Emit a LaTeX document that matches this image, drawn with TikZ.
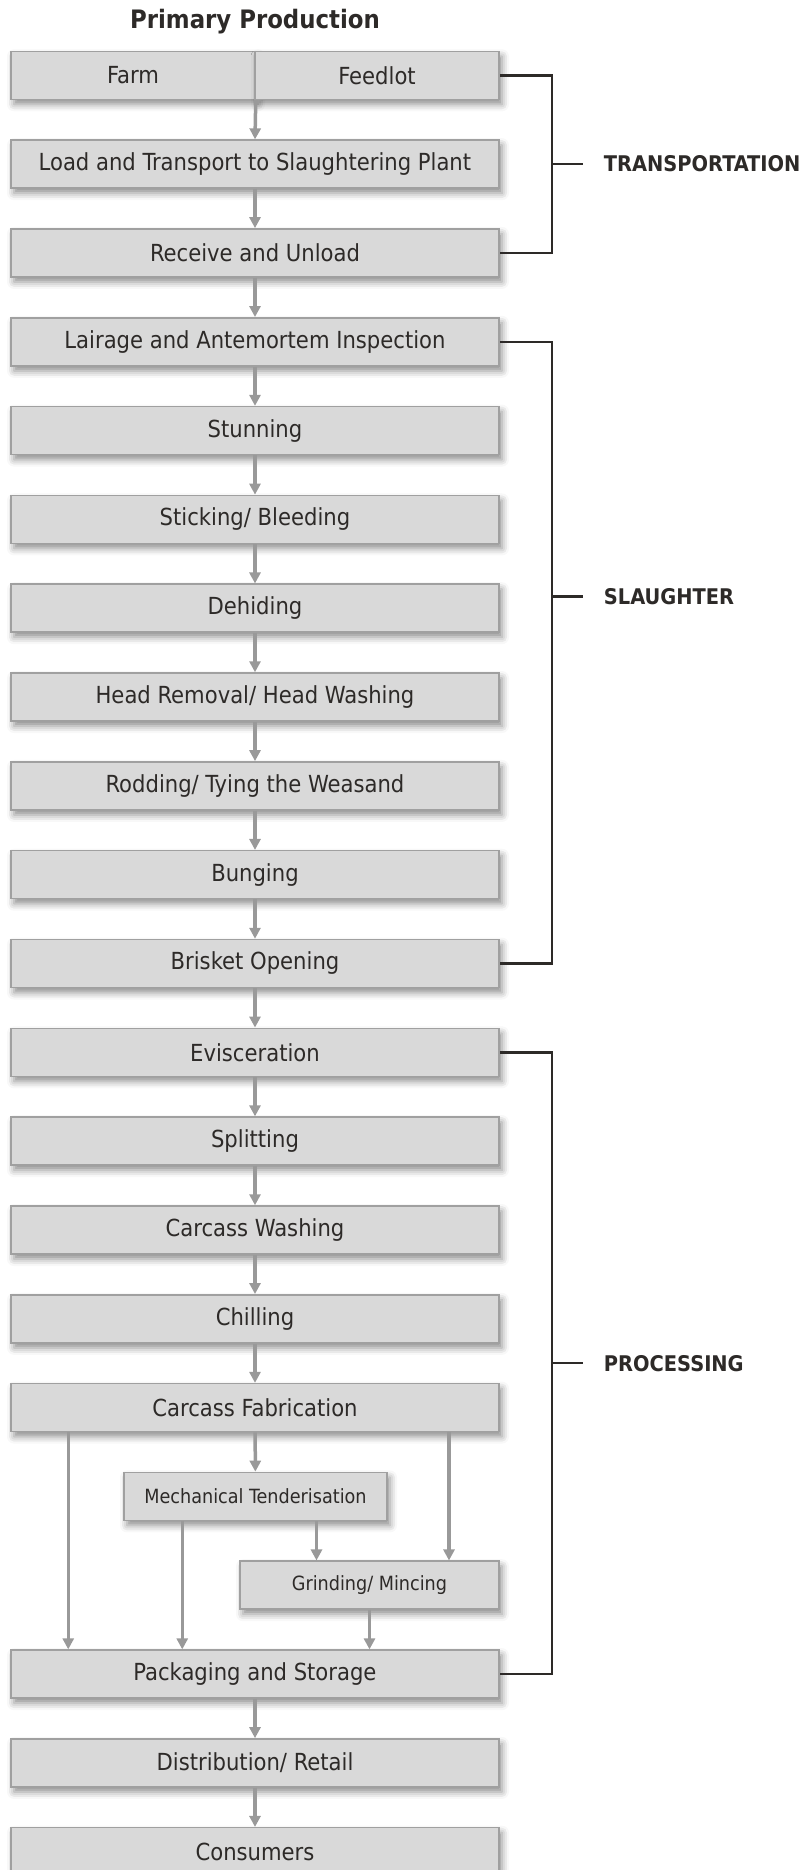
\documentclass[tikz,border=0pt]{standalone}
\usepackage{fontspec}
\setmainfont{DejaVu Sans Condensed}
\usepackage{tikz}
\usetikzlibrary{arrows.meta,positioning,calc,shadows.blur}
\definecolor{boxgray}{HTML}{D9D9D9}
\definecolor{edgegray}{HTML}{A0A0A0}
\definecolor{flowgray}{HTML}{999999}
\definecolor{inkdark}{HTML}{2D2A28}

\begin{document}
\begin{tikzpicture}[
    x=1pt,
    y=-1pt,
    stepbox/.style={draw=edgegray, line width=1.5pt, fill=boxgray,
        minimum width=488pt, minimum height=48pt, inner sep=0pt,
        text=inkdark, font=\fontsize{23.5}{26}\selectfont,
        blur shadow={shadow xshift=3pt, shadow yshift=-5pt,
            shadow blur radius=7pt, shadow opacity=45}},
    halfbox/.style={stepbox, minimum width=244pt},
    smallbox/.style={stepbox, font=\fontsize{19.6}{22}\selectfont},
    flow/.style={draw=flowgray, line width=3.5pt,
        -{Triangle[width=11pt,length=11pt]}},
    bracket/.style={draw=inkdark, line width=2.5pt},
    phase/.style={anchor=west, inner sep=0pt, text=inkdark,
        font=\bfseries\fontsize{21.6}{24}\selectfont}
]
    \useasboundingbox (0,0) rectangle (803,1870);

    % Title
    \node[text=inkdark, font=\bfseries\fontsize{25.4}{28}\selectfont] (title) at (255,21.5) {Primary Production};

    % Transportation
    \node[halfbox] (farm) at (133,75.3) {Farm};
    \node[halfbox] (feedlot) at (377,75.3) {Feedlot};
    \node[stepbox] (load) at (255,164.1) {Load and Transport to Slaughtering Plant};
    \node[stepbox] (receive) at (255,252.9) {Receive and Unload};

    % Slaughter
    \node[stepbox] (lairage) at (255,341.8) {Lairage and Antemortem Inspection};
    \node[stepbox] (stunning) at (255,430.6) {Stunning};
    \node[stepbox] (sticking) at (255,519.4) {Sticking/ Bleeding};
    \node[stepbox] (dehiding) at (255,608.2) {Dehiding};
    \node[stepbox] (head) at (255,697.0) {Head Removal/ Head Washing};
    \node[stepbox] (rodding) at (255,785.9) {Rodding/ Tying the Weasand};
    \node[stepbox] (bunging) at (255,874.7) {Bunging};
    \node[stepbox] (brisket) at (255,963.5) {Brisket Opening};

    % Processing
    \node[stepbox] (evisc) at (255,1052.3) {Evisceration};
    \node[stepbox] (splitting) at (255,1141.1) {Splitting};
    \node[stepbox] (washing) at (255,1230.0) {Carcass Washing};
    \node[stepbox] (chilling) at (255,1318.8) {Chilling};
    \node[stepbox] (fabrication) at (255,1407.6) {Carcass Fabrication};
    \node[smallbox, minimum width=263pt] (tender) at (255.5,1496.4) {Mechanical Tenderisation};
    \node[smallbox, minimum width=259pt] (grinding) at (369.5,1585.2) {Grinding/ Mincing};
    \node[stepbox] (packaging) at (255,1674.1) {Packaging and Storage};

    % Market
    \node[stepbox] (distribution) at (255,1762.9) {Distribution/ Retail};
    \node[stepbox] (consumers) at (255,1851.7) {Consumers};

    % Main flow
    \draw[flow] (farm.south east) -- (load.north);
    \draw[flow] (load) -- (receive);
    \draw[flow] (receive) -- (lairage);
    \draw[flow] (lairage) -- (stunning);
    \draw[flow] (stunning) -- (sticking);
    \draw[flow] (sticking) -- (dehiding);
    \draw[flow] (dehiding) -- (head);
    \draw[flow] (head) -- (rodding);
    \draw[flow] (rodding) -- (bunging);
    \draw[flow] (bunging) -- (brisket);
    \draw[flow] (brisket) -- (evisc);
    \draw[flow] (evisc) -- (splitting);
    \draw[flow] (splitting) -- (washing);
    \draw[flow] (washing) -- (chilling);
    \draw[flow] (chilling) -- (fabrication);
    \draw[flow] (fabrication) -- (tender);
    \draw[flow] (packaging) -- (distribution);
    \draw[flow] (distribution) -- (consumers);

    % Branches to packaging
    \draw[flow] ([xshift=58pt]fabrication.south west) -- ([xshift=58pt]fabrication.south west |- packaging.north);
    \draw[flow] ([xshift=194pt]fabrication.south) -- ([xshift=194pt]fabrication.south |- grinding.north);
    \draw[flow] ([xshift=59pt]tender.south west) -- ([xshift=59pt]tender.south west |- packaging.north);
    \draw[flow] ([xshift=61pt]tender.south) -- ([xshift=61pt]tender.south |- grinding.north);
    \draw[flow] (grinding.south) -- (grinding.south |- packaging.north);

    % Phase brackets
    \draw[bracket] (feedlot.east) -- ++(52,0) |- (receive.east);
    \coordinate (tr) at ($(feedlot.east)!0.5!(receive.east)+(52,0)$);
    \draw[bracket] (tr) -- ++(31,0);
    \node[phase] (transp) at ([xshift=52pt]tr) {TRANSPORTATION};

    \draw[bracket] (lairage.east) -- ++(52,0) |- (brisket.east);
    \coordinate (sl) at ($(lairage.east)!0.41!(brisket.east)+(52,0)$);
    \draw[bracket] (sl) -- ++(31,0);
    \node[phase] (slaught) at ([xshift=52pt]sl) {SLAUGHTER};

    \draw[bracket] (evisc.east) -- ++(52,0) |- (packaging.east);
    \coordinate (pr) at ($(evisc.east)!0.5!(packaging.east)+(52,0)$);
    \draw[bracket] (pr) -- ++(31,0);
    \node[phase] (proc) at ([xshift=52pt]pr) {PROCESSING};
\end{tikzpicture}
\end{document}
